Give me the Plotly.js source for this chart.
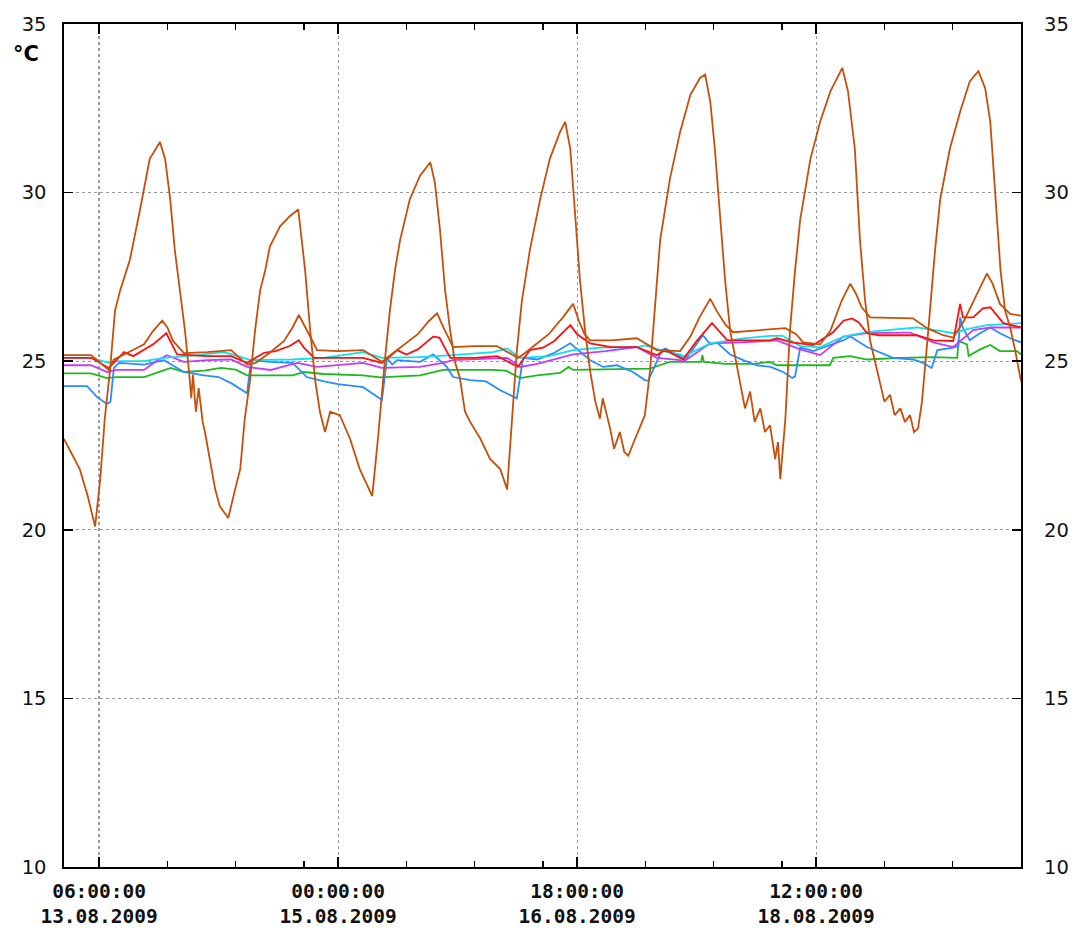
<!DOCTYPE html>
<html><head><meta charset="utf-8">
<script src="https://cdn.plot.ly/plotly-3.0.1.min.js"></script>
<style>html,body{margin:0;padding:0;background:#fff}#chart{width:1080px;height:937px}</style>
</head><body><div id="chart"></div><script>
// time axis: hours counted from 13.08.2009 00:00
const baseTime = Date.UTC(2009, 7, 13, 0, 0, 0);

const outdoorHours = [-0.2,1.0,2.6,4.0,5.3,6.2,7.0,7.9,8.8,9.7,11.4,13.2,14.9,16.7,17.6,18.5,19.3,20.2,21.1,21.8,22.2,22.5,23.0,23.5,24.2,24.6,25.5,26.4,27.2,28.7,29.9,30.8,31.6,32.5,33.4,34.3,35.2,36.0,37.8,39.5,41.0,42.2,43.1,44.0,44.8,45.7,46.6,48.3,50.1,51.8,54.0,55.0,56.2,57.1,58.0,58.9,60.6,62.4,64.2,65.0,65.9,66.8,67.7,68.5,69.4,70.3,71.2,73.0,74.7,76.5,77.7,78.6,79.4,80.3,81.7,83.5,85.2,87.0,87.9,88.8,89.6,90.5,91.4,92.3,93.2,94.0,94.5,95.8,96.5,97.5,98.3,99.0,100.2,101.9,102.8,103.7,104.6,106.3,108.1,109.9,111.6,112.5,113.4,114.2,115.1,116.0,116.9,118.6,119.5,120.4,121.2,122.2,123.0,123.9,124.8,125.3,125.7,126.6,127.4,128.3,129.2,131.0,132.7,134.5,136.6,137.6,138.8,139.7,140.6,141.5,143.2,144.0,145.0,145.8,146.8,147.6,148.5,149.2,149.9,150.6,151.7,152.9,153.8,155.5,157.3,159.0,160.5,161.7,162.6,163.5,164.4,165.2,166.1,167.0,168.0];
const outdoorTemp = [22.7,22.3,21.8,21.0,20.1,21.5,23.3,24.7,26.5,27.1,28.0,29.5,31.0,31.5,31.0,29.8,28.3,27.1,25.9,24.7,23.9,24.6,23.5,24.2,23.2,22.9,22.1,21.2,20.7,20.35,21.2,21.8,23.3,24.4,25.9,27.1,27.7,28.4,29.0,29.3,29.5,27.7,25.9,24.4,23.5,22.9,23.5,23.4,22.7,21.8,21.0,22.7,25.0,26.5,27.7,28.6,29.8,30.5,30.9,30.3,28.9,27.1,25.9,25.0,24.5,23.5,23.2,22.7,22.1,21.8,21.2,23.3,25.3,26.8,28.3,29.8,31.0,31.8,32.1,31.3,29.5,27.4,25.9,24.7,23.8,23.3,23.9,23.0,22.4,22.9,22.3,22.2,22.7,23.4,24.7,26.8,28.6,30.4,31.8,32.9,33.4,33.5,32.7,31.3,29.2,27.4,25.9,24.4,23.6,24.1,23.2,23.6,22.9,23.1,22.1,22.6,21.5,23.3,25.9,27.7,29.2,31.0,32.1,33.0,33.7,33.0,31.3,28.6,26.8,25.6,24.4,23.8,24.0,23.4,23.6,23.2,23.4,22.9,23.0,23.8,25.9,28.3,29.8,31.3,32.4,33.3,33.6,33.1,32.1,29.8,27.7,26.5,26.0,25.3,24.4];

const roomHours = [-0.2,4.6,7.7,8.6,10.4,13.9,15.5,17.1,18.0,19.0,20.9,25,29.2,32.0,33.5,34.3,36,38.5,40,41.1,42.3,43.5,44.3,48,52.4,55.7,56.6,59,62,64,65.4,66.5,68.2,72,75.9,79.6,80.5,82,85,87.5,89.3,90.3,91.3,92.3,96,100.5,104.0,108.1,109.9,111.5,113.4,114.5,116.0,117.4,123,126.6,128.5,129.7,132.7,134.5,136.5,138.0,139,140,141.5,149.0,151.5,154.3,156.1,158,160,162.0,163,164.3,166.1,168];
const roomTemp = [25.18,25.18,24.74,25.05,25.2,25.5,25.9,26.2,26.0,25.6,25.24,25.27,25.33,24.9,24.95,25.05,25.25,25.6,26.0,26.37,26.0,25.6,25.33,25.3,25.33,24.98,25.1,25.4,25.8,26.2,26.42,26.0,25.42,25.45,25.45,25.1,25.2,25.4,25.8,26.3,26.7,26.2,25.8,25.62,25.62,25.68,25.33,25.3,25.73,26.3,26.85,26.5,26.1,25.86,25.92,25.98,25.8,25.56,25.5,25.9,26.8,27.3,27.0,26.6,26.3,26.27,25.98,25.77,25.7,26.2,26.9,27.6,27.3,26.7,26.4,26.35];

const redHours = [-0.2,4.6,7.7,10.4,12,13.9,15.5,17.8,18.5,19.7,25,29.2,32.0,35.0,37,39.5,41.1,42.0,43.8,48,52.4,55.7,58.4,60,62,64.7,65.8,67.7,72,76,79.6,81.7,84,86,88.8,90,92.3,96,100.5,104.0,105.5,108.1,108.6,111.1,113.7,116.4,123.9,125.1,128,131.5,135.0,136.8,138.3,139.5,140.95,143,149.7,152.6,156.1,157.3,157.8,159.6,161.3,162.6,164.9,168];
const redTemp = [25.1,25.1,24.8,25.27,25.15,25.33,25.5,25.83,25.6,25.2,25.15,25.15,24.95,25.25,25.3,25.45,25.62,25.4,25.1,25.1,25.1,24.95,25.33,25.2,25.35,25.73,25.7,25.1,25.1,25.15,24.83,25.33,25.4,25.6,26.07,25.8,25.53,25.42,25.42,25.18,25.33,25.1,25.05,25.62,26.13,25.62,25.62,25.68,25.55,25.48,25.86,26.2,26.27,26.15,25.83,25.77,25.77,25.62,25.6,26.7,26.3,26.3,26.57,26.6,26.13,26.0];

const cyanHours = [-0.2,4.6,7.7,9,13.9,17.4,23.2,28,32.7,40,45.5,50,52.4,55.7,62,68,75.2,77.7,80.0,85,89.3,94,100.5,102,105.8,108.1,108.8,113.4,116,119.2,123.9,126,129.2,132.7,136.8,140.95,144.5,149.7,153.8,156.1,158.5,162.0,168];
const cyanTemp = [25.1,25.1,24.95,25.0,25.0,25.1,25.18,25.27,25.03,25.05,25.1,25.2,25.27,25.1,25.12,25.18,25.27,25.38,25.1,25.15,25.33,25.4,25.42,25.47,25.27,25.2,25.15,25.53,25.6,25.68,25.75,25.76,25.45,25.42,25.73,25.86,25.92,26.0,25.9,25.83,25.95,26.07,26.13];

const violetHours = [-0.2,4.6,7.4,9,13.9,16,17.9,20.9,25,29.2,32.0,36.2,38.5,40.8,44.3,48,52.4,55.7,62.4,66.45,68.2,77.7,80.0,83,89.3,95,100.5,104.0,108.1,108.6,113.4,119.2,125.1,129.2,132.7,136.8,140.95,148.5,152.6,156.1,159.6,162.6,168];
const violetTemp = [24.88,24.88,24.68,24.74,24.74,25.0,25.18,24.98,25.03,25.05,24.83,24.74,24.85,24.95,24.83,24.88,24.95,24.8,24.83,24.95,25.03,25.1,24.83,24.92,25.2,25.3,25.42,25.1,25.03,24.98,25.53,25.56,25.62,25.35,25.18,25.73,25.83,25.85,25.56,25.42,25.92,26.0,26.0];

const greenHours = [-0.2,4.6,7.4,9,13.9,16,18.6,20.9,24.5,27.4,30,32.0,40,42.0,45.5,52.4,55.4,62.4,66.45,75,77.5,79.98,83,87,88.5,89.3,92.3,97,102.8,104,106.3,111.8,112.0,112.3,116,121,123.9,125.1,129.2,134.4,135.0,138.0,140.95,146.8,152.6,156.8,157.0,158.5,158.8,160.8,162.6,164.3,167.3,168];
const greenTemp = [24.64,24.64,24.5,24.53,24.53,24.65,24.8,24.68,24.72,24.8,24.75,24.58,24.58,24.68,24.62,24.58,24.52,24.58,24.74,24.74,24.72,24.5,24.58,24.65,24.83,24.74,24.75,24.75,24.78,24.85,24.98,24.98,25.18,24.98,24.92,24.92,24.98,24.88,24.88,24.88,25.1,25.15,25.05,25.1,25.12,25.1,25.6,25.5,25.15,25.35,25.48,25.3,25.3,25.2];

const blueHours = [-0.2,3.9,5.6,7.4,8.0,8.6,9.5,13.9,17.4,20.9,24.45,27,29.2,31.5,32.0,32.7,36,40,42.5,45.5,48,52.4,55.0,55.7,56.6,57.5,58.4,62.4,64.7,67.1,68.2,71.2,74,76.5,79.4,80.5,83,86,88.8,92.3,94.6,97,99.8,101.9,102.5,104.9,105.5,108.6,108.9,112.1,113.4,114.6,116.9,119.2,121.6,124,126.2,127.8,128.3,129.2,130.5,131.5,136.8,138.0,140.95,143.2,145.5,149,150.8,152.0,152.3,153.3,156.1,157.0,157.3,157.8,159.0,160.5,162.6,164.3,166.1,168];
const blueTemp = [24.26,24.26,23.94,23.73,23.8,24.8,24.95,24.9,25.03,24.68,24.58,24.53,24.35,24.1,24.05,25.03,24.98,24.95,24.53,24.4,24.32,24.23,23.94,23.85,25.1,24.9,25.03,24.98,25.2,24.83,24.53,24.44,24.4,24.14,23.9,25.1,25.05,25.25,25.53,25.03,24.83,24.88,24.68,24.44,24.42,25.33,25.38,25.1,25.02,25.77,25.5,25.55,25.2,25.03,24.88,24.83,24.68,24.5,24.55,25.4,25.35,25.3,25.62,25.73,25.42,25.27,25.1,25.05,24.95,24.83,24.8,25.33,25.4,25.45,26.3,25.98,25.62,25.8,26.0,25.83,25.68,25.56];

const majorTicks = ['2009-08-13 06:00:00','2009-08-15 00:00:00','2009-08-16 18:00:00','2009-08-18 12:00:00'];
const majorLabels = ['06:00:00<br>13.08.2009','00:00:00<br>15.08.2009','18:00:00<br>16.08.2009','12:00:00<br>18.08.2009'];
const minorTicks = ['2009-08-13 18:00:00','2009-08-14 06:00:00','2009-08-14 18:00:00','2009-08-15 12:00:00','2009-08-16 00:00:00','2009-08-16 12:00:00','2009-08-17 06:00:00','2009-08-17 18:00:00','2009-08-18 06:00:00','2009-08-19 00:00:00','2009-08-19 12:00:00'];
const yTicks = [10,15,20,25,30,35];
const xRange = ['2009-08-12 23:50:00','2009-08-20 00:00:00'];
const unitLabel = '°C';

function toTime(h){
  const d = new Date(baseTime + h*3600000);
  const p = n => String(n).padStart(2,'0');
  return d.getUTCFullYear()+'-'+p(d.getUTCMonth()+1)+'-'+p(d.getUTCDate())+' '+p(d.getUTCHours())+':'+p(d.getUTCMinutes())+':'+p(d.getUTCSeconds());
}
function line(hours, temps, color, yaxis){
  return {x: hours.map(toTime), y: temps, type:'scatter', mode:'lines',
    line:{color:color, width:1.8}, hoverinfo:'skip', showlegend:false, yaxis: yaxis||'y'};
}
const brown = '#c4500c';
const traces = [
  line(greenHours, greenTemp, '#1fb81f'),
  line(blueHours, blueTemp, '#2a8cff'),
  line(violetHours, violetTemp, '#c13cff'),
  line(cyanHours, cyanTemp, '#11e0e8'),
  line(redHours, redTemp, '#ff1010'),
  line(roomHours, roomTemp, brown),
  line(outdoorHours, outdoorTemp, brown),
  {x:[], y:[], type:'scatter', mode:'lines', yaxis:'y2', xaxis:'x', showlegend:false, hoverinfo:'skip'}
];

const layout = {
  width:1080, height:937,
  margin:{l:64, r:59, t:24, b:70, pad:0},
  paper_bgcolor:'#fff', plot_bgcolor:'#fff',
  font:{family:'DejaVu Sans', size:19, color:'#000'},
  showlegend:false,
  xaxis:{
    type:'date', range:xRange, tickmode:'array', tickvals:majorTicks, ticktext:majorLabels,
    tickfont:{family:'DejaVu Sans Mono', size:19.5, weight:'bold', color:'#111'},
    ticks:'inside', ticklen:10, tickwidth:1.5, tickcolor:'#000',
    showline:true, linecolor:'#000', linewidth:1.6, mirror:'ticks',
    showgrid:true, gridcolor:'#9a9a9a', griddash:'dot', gridwidth:1.2,
    zeroline:false, ticklabelstandoff:6,
    minor:{tickmode:'array', tickvals:minorTicks, ticks:'inside', ticklen:6, tickwidth:1.3, tickcolor:'#000', showgrid:false}
  },
  yaxis:{
    range:[10,35], tickmode:'array', tickvals:yTicks,
    ticks:'inside', ticklen:9, tickwidth:1.5, tickcolor:'#000',
    showline:true, linecolor:'#000', linewidth:1.6, mirror:'ticks',
    showgrid:true, gridcolor:'#9a9a9a', griddash:'dot', gridwidth:1.2,
    zeroline:false, ticklabelstandoff:12, tickfont:{family:'DejaVu Sans', size:19.5, color:'#111'}
  },
  yaxis2:{
    range:[10,35], overlaying:'y', side:'right', tickmode:'array', tickvals:yTicks,
    ticks:'', showgrid:false, zeroline:false, showline:false,
    ticklabelstandoff:22, tickfont:{family:'DejaVu Sans', size:19.5, color:'#111'}
  },
  annotations:[{text:unitLabel, xref:'paper', yref:'paper', x:-0.04, y:0.964, xanchor:'center', yanchor:'middle',
    showarrow:false, font:{family:'DejaVu Sans', size:21, weight:'bold', color:'#000'}}]
};
Plotly.newPlot('chart', traces, layout, {staticPlot:true, displayModeBar:false});
</script></body></html>
